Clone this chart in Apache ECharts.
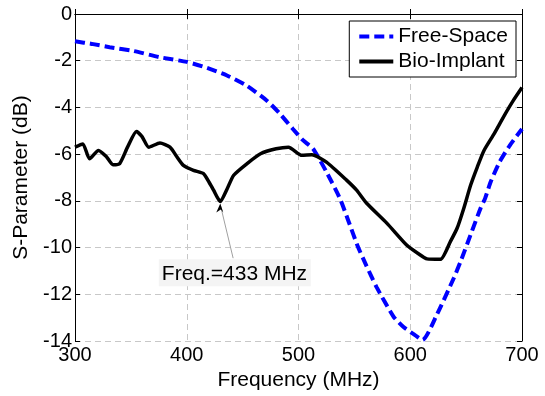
<!DOCTYPE html>
<html>
<head>
<meta charset="utf-8">
<script src="https://cdn.jsdelivr.net/npm/echarts@6/dist/echarts.min.js"></script>
<style>
  html, body { margin: 0; padding: 0; background: #fff; }
  #chart { width: 545px; height: 396px; }
</style>
</head>
<body>
<div id="chart"></div>
<script>
// values
var fsFreq = [300, 315, 331, 352, 376, 400, 418, 436, 454, 472, 483, 495, 504, 513, 525, 537, 545, 553, 561, 570, 585, 594, 603, 611, 624, 639, 645, 654, 663, 667, 672, 680, 689, 700];
var fsVal  = [-1.17, -1.28, -1.42, -1.58, -1.85, -2.05, -2.3, -2.63, -3.08, -3.72, -4.25, -4.92, -5.4, -5.77, -6.76, -7.89, -8.9, -9.94, -10.8, -11.7, -12.95, -13.4, -13.7, -13.95, -12.85, -11.3, -10.6, -9.45, -8.3, -7.89, -7.18, -6.33, -5.63, -4.92];

var biFreq = [300, 307, 313, 321, 328, 334, 340, 347, 355, 360, 366, 376, 385, 391, 397, 406, 415, 420, 424, 430, 436, 442, 454, 466, 480, 491, 503, 512, 525, 543, 552, 561, 579, 597, 607, 615, 627, 636, 642, 648, 654, 660, 666, 675, 684, 692, 700];
var biVal  = [-5.7, -5.56, -6.2, -5.84, -6.1, -6.45, -6.4, -5.7, -5.03, -5.25, -5.7, -5.52, -5.7, -6.1, -6.48, -6.69, -6.83, -7.2, -7.54, -8.03, -7.5, -6.9, -6.4, -5.98, -5.77, -5.7, -6.05, -6.02, -6.34, -7.11, -7.54, -8.1, -8.95, -9.9, -10.25, -10.48, -10.5, -9.73, -9.16, -8.3, -7.33, -6.55, -5.84, -5.13, -4.36, -3.72, -3.15];

var xTicks = { min: 300, max: 700, step: 100 };
var yTicks = { min: -14, max: 0, step: 2 };

var annotFreq = 433;
var annotVal = -8.03;
var annotText = 'Freq.=433 MHz';

function pairs(xs, ys) {
  return xs.map(function (x, i) { return [x, ys[i]]; });
}

var font = 'Liberation Sans, Arial, Helvetica, sans-serif';
var gridLine = { show: true, lineStyle: { color: '#c8c8c8', type: [6, 4], width: 1 } };

var myChart = echarts.init(document.getElementById('chart'));
var option = {
  animation: false,
  textStyle: { fontFamily: font },
  grid: { left: 75, right: 23, top: 14, bottom: 52 },
  legend: {
    orient: 'vertical',
    right: 29,
    top: 21,
    padding: [5, 8, 5, 8],
    itemGap: 4,
    itemWidth: 34,
    itemHeight: 14,
    backgroundColor: '#fff',
    borderColor: '#000',
    borderWidth: 1,
    itemStyle: { opacity: 0 },
    textStyle: { fontSize: 21, color: '#000', fontFamily: font },
    data: [
      { name: 'Free-Space', lineStyle: { width: 4, type: [10, 5] } },
      { name: 'Bio-Implant', lineStyle: { width: 4 } }
    ]
  },
  xAxis: [{
    type: 'value',
    min: xTicks.min, max: xTicks.max, interval: xTicks.step,
    name: 'Frequency (MHz)',
    nameLocation: 'middle',
    nameGap: 27,
    nameTextStyle: { fontSize: 21, color: '#000' },
    axisLine: { lineStyle: { color: '#000', width: 1 } },
    axisTick: { inside: true, length: 5, lineStyle: { color: '#000' } },
    axisLabel: { fontSize: 20, color: '#000', margin: 4 },
    splitLine: gridLine
  }, {
    type: 'value', position: 'top',
    min: xTicks.min, max: xTicks.max, interval: xTicks.step,
    axisLine: { lineStyle: { color: '#000', width: 1 } },
    axisTick: { inside: true, length: 5, lineStyle: { color: '#000' } },
    axisLabel: { show: false },
    splitLine: { show: false }
  }],
  yAxis: [{
    type: 'value',
    min: yTicks.min, max: yTicks.max, interval: yTicks.step,
    name: 'S-Parameter (dB)',
    nameLocation: 'middle',
    nameGap: 34,
    nameTextStyle: { fontSize: 21, color: '#000' },
    axisLine: { show: true, lineStyle: { color: '#000', width: 1 } },
    axisTick: { show: true, inside: true, length: 5, lineStyle: { color: '#000' } },
    axisLabel: { fontSize: 20, color: '#000', margin: 3 },
    splitLine: gridLine
  }, {
    type: 'value', position: 'right',
    min: yTicks.min, max: yTicks.max, interval: yTicks.step,
    axisLine: { show: true, lineStyle: { color: '#000', width: 1 } },
    axisTick: { show: true, inside: true, length: 5, lineStyle: { color: '#000' } },
    axisLabel: { show: false },
    splitLine: { show: false }
  }],
  series: [{
    name: 'Free-Space',
    type: 'line',
    symbol: 'none',
    smooth: 0.2,
    z: 3,
    lineStyle: { color: '#0000ff', width: 4, type: [10, 5] },
    itemStyle: { color: '#0000ff' },
    data: pairs(fsFreq, fsVal)
  }, {
    name: 'Bio-Implant',
    type: 'line',
    symbol: 'none',
    smooth: 0.2,
    z: 4,
    lineStyle: { color: '#000', width: 3.5 },
    itemStyle: { color: '#000' },
    data: pairs(biFreq, biVal)
  }]
};
myChart.setOption(option);

// annotation box + arrow, positioned through the axes
var tip = myChart.convertToPixel({ gridIndex: 0 }, [annotFreq - 3, annotVal]);
var tail = myChart.convertToPixel({ gridIndex: 0 }, [441.5, -10.45]);
var boxTL = myChart.convertToPixel({ gridIndex: 0 }, [375, -10.5]);
var boxBR = myChart.convertToPixel({ gridIndex: 0 }, [511, -11.65]);
myChart.setOption({
  graphic: [{
    type: 'rect',
    shape: { x: boxTL[0], y: boxTL[1], width: boxBR[0] - boxTL[0], height: boxBR[1] - boxTL[1] },
    style: { fill: '#f4f4f4' },
    z: 10
  }, {
    type: 'text',
    x: boxTL[0] + 3,
    y: (boxTL[1] + boxBR[1]) / 2 + 1,
    style: { text: annotText, fontSize: 21, fontFamily: font, fill: '#000', verticalAlign: 'middle' },
    z: 11
  }, {
    type: 'line',
    shape: { x1: tail[0], y1: tail[1], x2: tip[0], y2: tip[1] + 3 },
    style: { stroke: '#a0a0a0', lineWidth: 1 },
    z: 10
  }, {
    type: 'polygon',
    shape: { points: [[tip[0], tip[1] + 2], [tip[0] - 4, tip[1] + 11], [tip[0] + 0.5, tip[1] + 8], [tip[0] + 3, tip[1] + 11]] },
    style: { fill: '#000' },
    z: 12
  }]
});
</script>
</body>
</html>
